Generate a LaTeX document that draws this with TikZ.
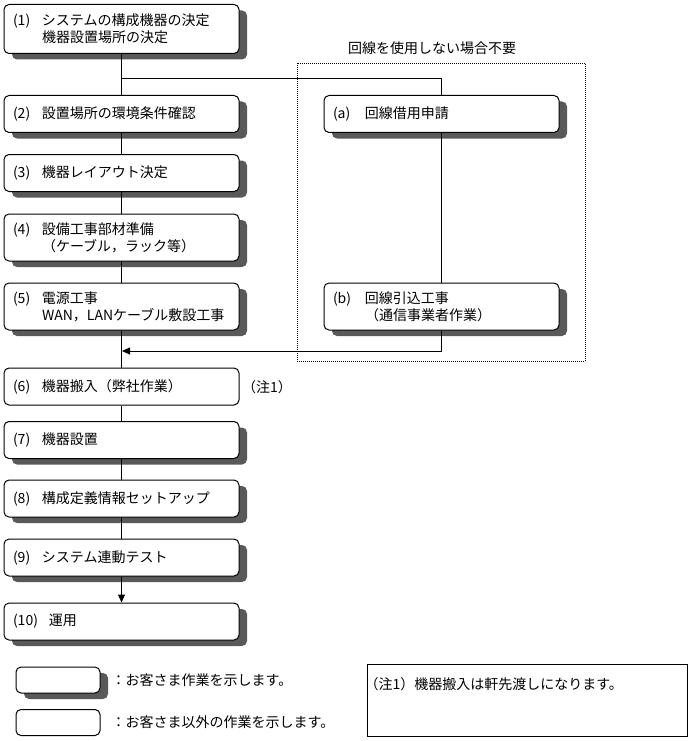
\documentclass[tikz,border=0pt]{standalone}
\usepackage{fontspec}
\setmainfont{Noto Sans CJK JP}
\usetikzlibrary{arrows.meta,shadows,positioning}

\newcommand{\stepno}[2][29pt]{\makebox[#1][l]{#2}}

\begin{document}
\begin{tikzpicture}[x=1pt,y=-1pt,font=\fontsize{14}{17}\selectfont,
    work/.style={draw, line width=1pt, rounded corners=5pt, fill=white, minimum width=235pt, minimum height=37pt, text width=217pt, inner xsep=9pt, inner ysep=0pt, align=left},
    custwork/.style={work, drop shadow={shadow xshift=8pt, shadow yshift=-6pt, fill=black!65, opacity=1}},
    tall/.style={minimum height=47pt},
    legendbox/.style={draw, line width=1pt, rounded corners=5pt, fill=white, minimum width=84pt, minimum height=26pt},
    link/.style={line width=1pt},
    arr/.style={link, -{Triangle[length=8pt,width=7pt]}}]
  \useasboundingbox (0,0) rectangle (692,741);

  % optional part
  \node[draw, line width=0.8pt, dash pattern=on 1pt off 1pt, minimum width=288pt, minimum height=298pt] (optional) at (441,212) {};
  \node at (432,48) (optlabel) {回線を使用しない場合不要};

  \node[custwork, minimum height=49pt] at (121.5,29) (s1) {\stepno{(1)}システムの構成機器の決定\\\hspace*{29pt}機器設置場所の決定};
  \node[custwork] at (121.5,114) (s2) {\stepno{(2)}設置場所の環境条件確認};
  \node[custwork] at (121.5,173) (s3) {\stepno{(3)}機器レイアウト決定};
  \node[custwork, tall] at (121.5,237.5) (s4) {\stepno{(4)}設備工事部材準備\\\hspace*{29pt}（ケーブル，ラック等）};
  \node[custwork, tall] at (121.5,306.5) (s5) {\stepno{(5)}電源工事\\\hspace*{29pt}WAN，LANケーブル敷設工事};
  \node[work] at (121.5,386.5) (s6) {\stepno{(6)}機器搬入（弊社作業）};
  \node at (267,387) (note1) {（注1）};
  \node[custwork] at (121.5,440) (s7) {\stepno{(7)}機器設置};
  \node[custwork] at (121.5,498.5) (s8) {\stepno{(8)}構成定義情報セットアップ};
  \node[custwork] at (121.5,557.5) (s9) {\stepno{(9)}システム連動テスト};
  \node[custwork] at (121.5,621.5) (s10) {\stepno[36pt]{(10)}運用};

  \node[custwork] at (441.5,114) (sa) {\stepno[32pt]{(a)}回線借用申請};
  \node[custwork, tall] at (441.5,306.5) (sb) {\stepno[32pt]{(b)}回線引込工事\\\hspace*{32pt}（通信事業者作業）};

  \coordinate (split) at (122,79);
  \coordinate (merge) at (122,351);
  \draw[link] (s1) -- (s2);
  \draw[link] (split) -| (sa.north);
  \draw[link] (sa) -- (sb);
  \draw[arr] (sb.south) |- (merge);
  \draw[link] (s2) -- (s3);
  \draw[link] (s3) -- (s4);
  \draw[link] (s4) -- (s5);
  \draw[link] (s5) -- (s6);
  \draw[link] (s6) -- (s7);
  \draw[link] (s7) -- (s8);
  \draw[link] (s8) -- (s9);
  \draw[arr] (s9) -- (s10);

  % legend
  \node[legendbox, drop shadow={shadow xshift=8pt, shadow yshift=-6pt, fill=black!65, opacity=1}] at (58,680) (custkey) {};
  \node[legendbox] at (58,722.5) (ourkey) {};
  \node[right=11pt of custkey, inner xsep=0pt] (custtext) {：お客さま作業を示します。};
  \node[right=11pt of ourkey, inner xsep=0pt] (ourtext) {：お客さま以外の作業を示します。};

  \node[draw, line width=1pt, minimum width=320pt, minimum height=72pt] at (527,700) (notebox) {};
  \node[anchor=west] at (361,684) (notetext) {（注1）機器搬入は軒先渡しになります。};
\end{tikzpicture}
\end{document}
